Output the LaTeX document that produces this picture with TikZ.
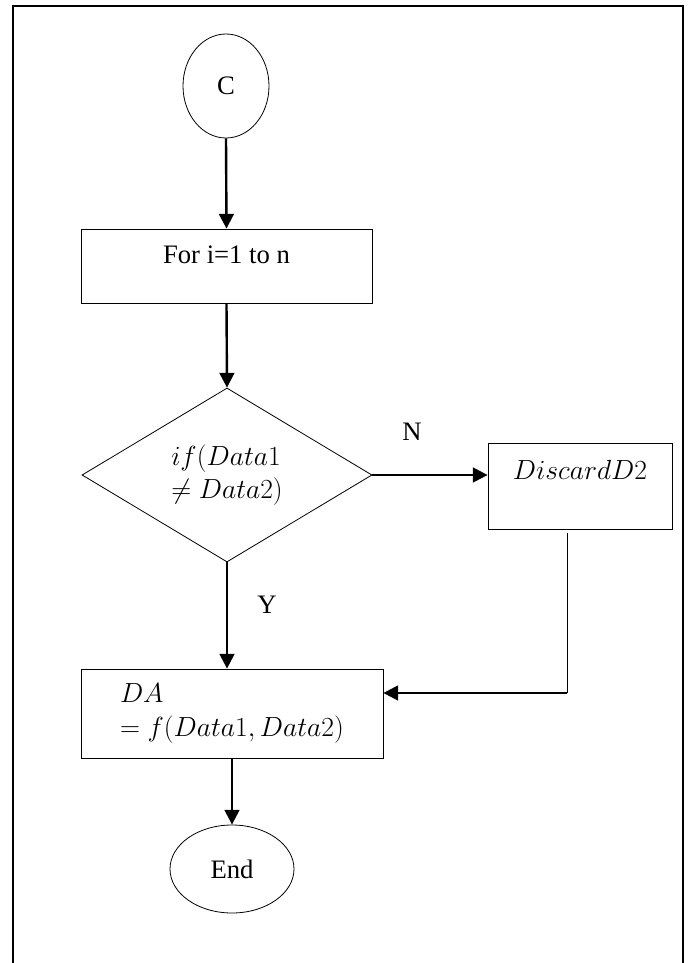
\documentclass[tikz,border=0pt]{standalone}
\usepackage{fontspec}
\setmainfont{Liberation Serif}
\usetikzlibrary{arrows.meta,shapes.geometric,calc}
\tikzset{
  flow/.style={-{Triangle[length=11pt,width=11pt]}, line width=1.8pt},
  frame/.style={line width=1.2pt},
  term/.style={ellipse, draw, line width=0.6pt, inner sep=0pt},
  proc/.style={rectangle, draw, line width=0.6pt, inner sep=0pt},
  decide/.style={diamond, draw, line width=0.6pt, inner sep=0pt, align=left},
  lab/.style={inner sep=0pt}
}
\begin{document}
\begin{tikzpicture}[x=0.75pt,y=-0.75pt,
    every node/.style={font=\fontsize{20}{25}\selectfont}]
  \useasboundingbox (0,0) rectangle (688,963);
  \draw[frame] (13,975) -- (13,6) -- (683,6) -- (683,975);

  % shapes of the flow
  \node[term, minimum width=64.5pt, minimum height=78pt] (c) at (226,86) {C};
  \node[proc, minimum width=218.25pt, minimum height=55.5pt,
        text height=13pt, text depth=16.5pt] (for) at (226.5,266) {For i=1 to n};
  \node[decide, minimum width=217.5pt, minimum height=130.5pt] (dec) at (227,475)
        {$if(Data1$\\$\neq Data2)$};
  \node[proc, minimum width=138pt, minimum height=64.5pt,
        text height=13pt, text depth=22.5pt] (disc) at (580,486) {$DiscardD2$};
  \node[proc, minimum height=66.75pt, align=left, text width=168pt,
        inner xsep=29.25pt] (da) at (232,713.5) {$DA$\\$= f(Data1, Data2)$};
  \node[term, minimum width=93pt, minimum height=66pt] (stop) at (232,869) {End};

  \node[lab] (lblN) at (412,432) {N};
  \node[lab] (lblY) at (267,605) {Y};

  % connectors
  \draw[flow] (c.south) -- (for.north);
  \draw[flow] (for.south) -- (dec.north);
  \draw[flow] (dec.east) -- (dec.east -| disc.west);
  \draw[flow] (dec.south) -- (dec.south |- da.north);
  \coordinate (bend) at ($(disc.south)+(-13,4)$);
  \coordinate (turn) at (bend |- 0,693);
  \draw[line width=0.75pt] (bend) -- (turn);
  \draw[flow] (turn) -- (turn -| da.east);
  \draw[flow] (da.south) -- (stop.north);
\end{tikzpicture}
\end{document}
